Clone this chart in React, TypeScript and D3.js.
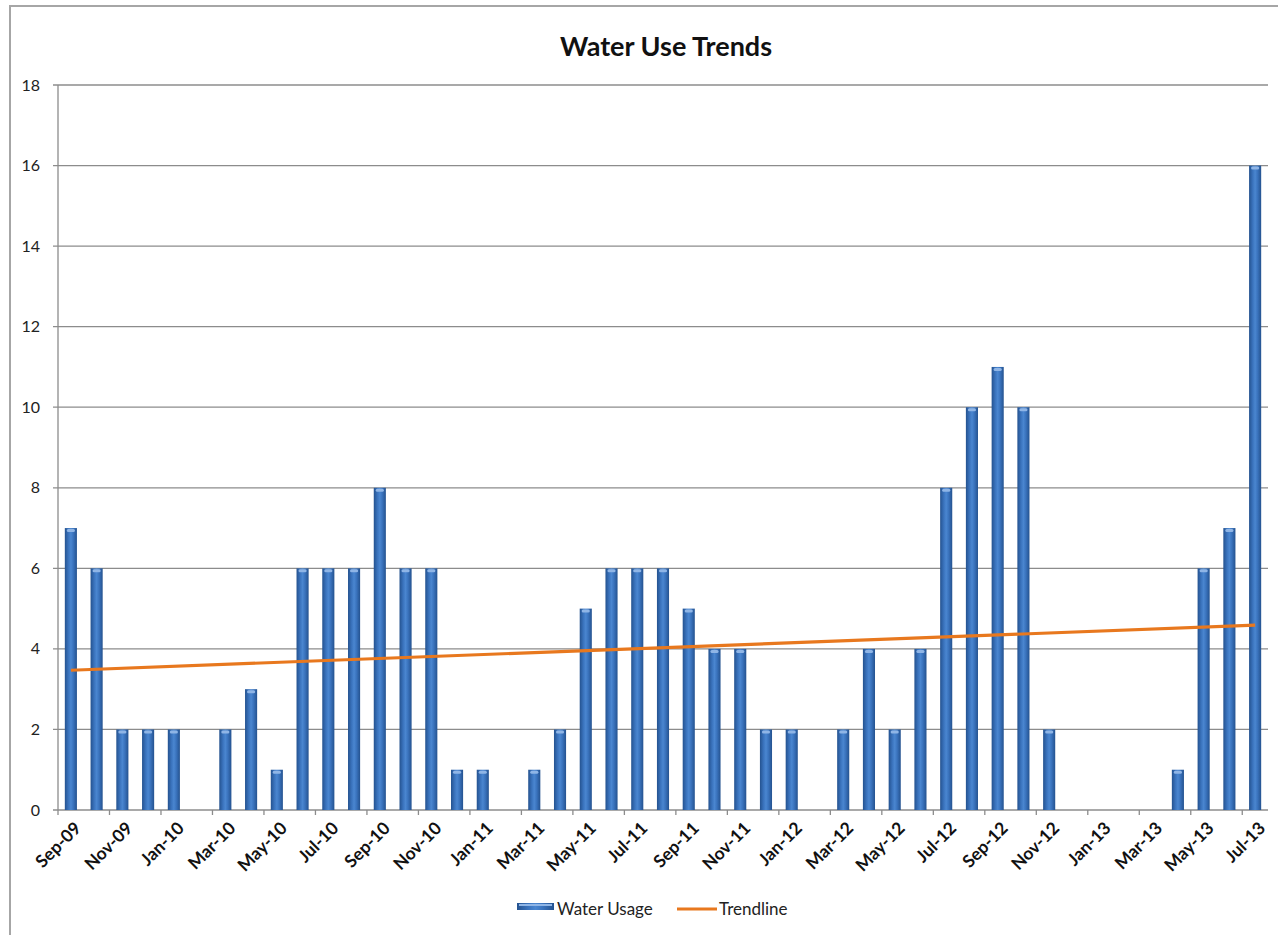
import React from "react";
import * as d3 from "d3";

const months: string[] = [
  "Sep-09","Oct-09","Nov-09","Dec-09","Jan-10","Feb-10","Mar-10","Apr-10","May-10","Jun-10","Jul-10","Aug-10",
  "Sep-10","Oct-10","Nov-10","Dec-10","Jan-11","Feb-11","Mar-11","Apr-11","May-11","Jun-11","Jul-11","Aug-11",
  "Sep-11","Oct-11","Nov-11","Dec-11","Jan-12","Feb-12","Mar-12","Apr-12","May-12","Jun-12","Jul-12","Aug-12",
  "Sep-12","Oct-12","Nov-12","Dec-12","Jan-13","Feb-13","Mar-13","Apr-13","May-13","Jun-13","Jul-13",
];
const waterUsage: number[] = [
  7,6,2,2,2,0,2,3,1,6,6,6,
  8,6,6,1,1,0,1,2,5,6,6,6,
  5,4,4,2,2,0,2,4,2,4,8,10,
  11,10,2,0,0,0,0,1,6,7,16,
];
// trendline endpoints (first and last month)
const trendMonths: string[] = ["Sep-09", "Jul-13"];
const trendValues: number[] = [3.47, 4.59];
const yTicks: number[] = [0,2,4,6,8,10,12,14,16,18];

const W = 1278, H = 935;
const left = 58, right = 1268, top = 85, bottom = 810;

export default function App() {
  const x = d3.scaleBand<string>().domain(months).range([left, right]).paddingInner(0).paddingOuter(0);
  const y = d3.scaleLinear().domain([0, 18]).range([bottom, top]);
  const bw = x.bandwidth() * 0.47;
  const cx = (m: string) => (x(m) as number) + x.bandwidth() / 2;

  const trend = trendMonths.map((m, i) => ({ m, v: trendValues[i] }));
  const line = d3.line<{ m: string; v: number }>().x(d => cx(d.m)).y(d => y(d.v));

  const tickBoundaries = months.map((m, i) => i).filter(i => i % 2 === 0);
  const font = "Lato, 'Open Sans', sans-serif";

  return (
    <svg width={W} height={H} style={{ position: "absolute", left: 0, top: 0, background: "#fff" }}>
      <defs>
        <linearGradient id="barGrad" x1="0" x2="1" y1="0" y2="0">
          <stop offset="0" stopColor="#24528f" />
          <stop offset="0.3" stopColor="#3a73bd" />
          <stop offset="0.5" stopColor="#4a86d0" />
          <stop offset="0.7" stopColor="#3a73bd" />
          <stop offset="1" stopColor="#24528f" />
        </linearGradient>
      </defs>
      <rect x={10} y={6} width={W} height={H} fill="#fff" stroke="#a6a6a6" strokeWidth={2} />
      <text x={666} y={56} textAnchor="middle" fontFamily={font} fontWeight="bold" fontSize={27} fill="#111">
        Water Use Trends
      </text>
      {yTicks.map(t => (
        <g key={t}>
          <line x1={left - 5} x2={right} y1={y(t)} y2={y(t)} stroke="#8c8c8c" strokeWidth={1.3} />
          <text x={40} y={y(t)} dy="0.35em" textAnchor="end" fontFamily={font} fontSize={16} fill="#222">{t}</text>
        </g>
      ))}
      <line x1={left} x2={left} y1={top} y2={bottom} stroke="#8c8c8c" strokeWidth={1.3} />
      {tickBoundaries.map(i => (
        <line key={i} x1={x(months[i]) as number} x2={x(months[i]) as number} y1={bottom} y2={bottom + 5} stroke="#8c8c8c" strokeWidth={1.3} />
      ))}
      {waterUsage.map((v, i) => v > 0 && (
        <g key={i}>
          <rect x={cx(months[i]) - bw / 2} y={y(v)} width={bw} height={bottom - y(v)} fill="url(#barGrad)" />
          <rect x={cx(months[i]) - bw / 2 + 2} y={y(v) + 1} width={bw - 4} height={3} rx={1.5} fill="#8fb5e6" />
        </g>
      ))}
      <path d={line(trend) as string} fill="none" stroke="#e8781e" strokeWidth={3.2} />
      {months.map((m, i) => i % 2 === 0 && (
        <text key={m} transform={`translate(${cx(m) + 7},${bottom + 15}) rotate(-45)`} textAnchor="end"
          fontFamily={font} fontWeight="bold" fontSize={17.5} fill="#111" dy="0.35em">{m}</text>
      ))}
      <rect x={517} y={903} width={37} height={7} fill="url(#barGrad)" />
      <rect x={519} y={904} width={33} height={2} fill="#8fb5e6" />
      <text x={557} y={915} fontFamily={font} fontSize={17} fill="#222">Water Usage</text>
      <line x1={677} x2={717} y1={909} y2={909} stroke="#e8781e" strokeWidth={3} />
      <text x={719} y={915} fontFamily={font} fontSize={17} fill="#222">Trendline</text>
    </svg>
  );
}
